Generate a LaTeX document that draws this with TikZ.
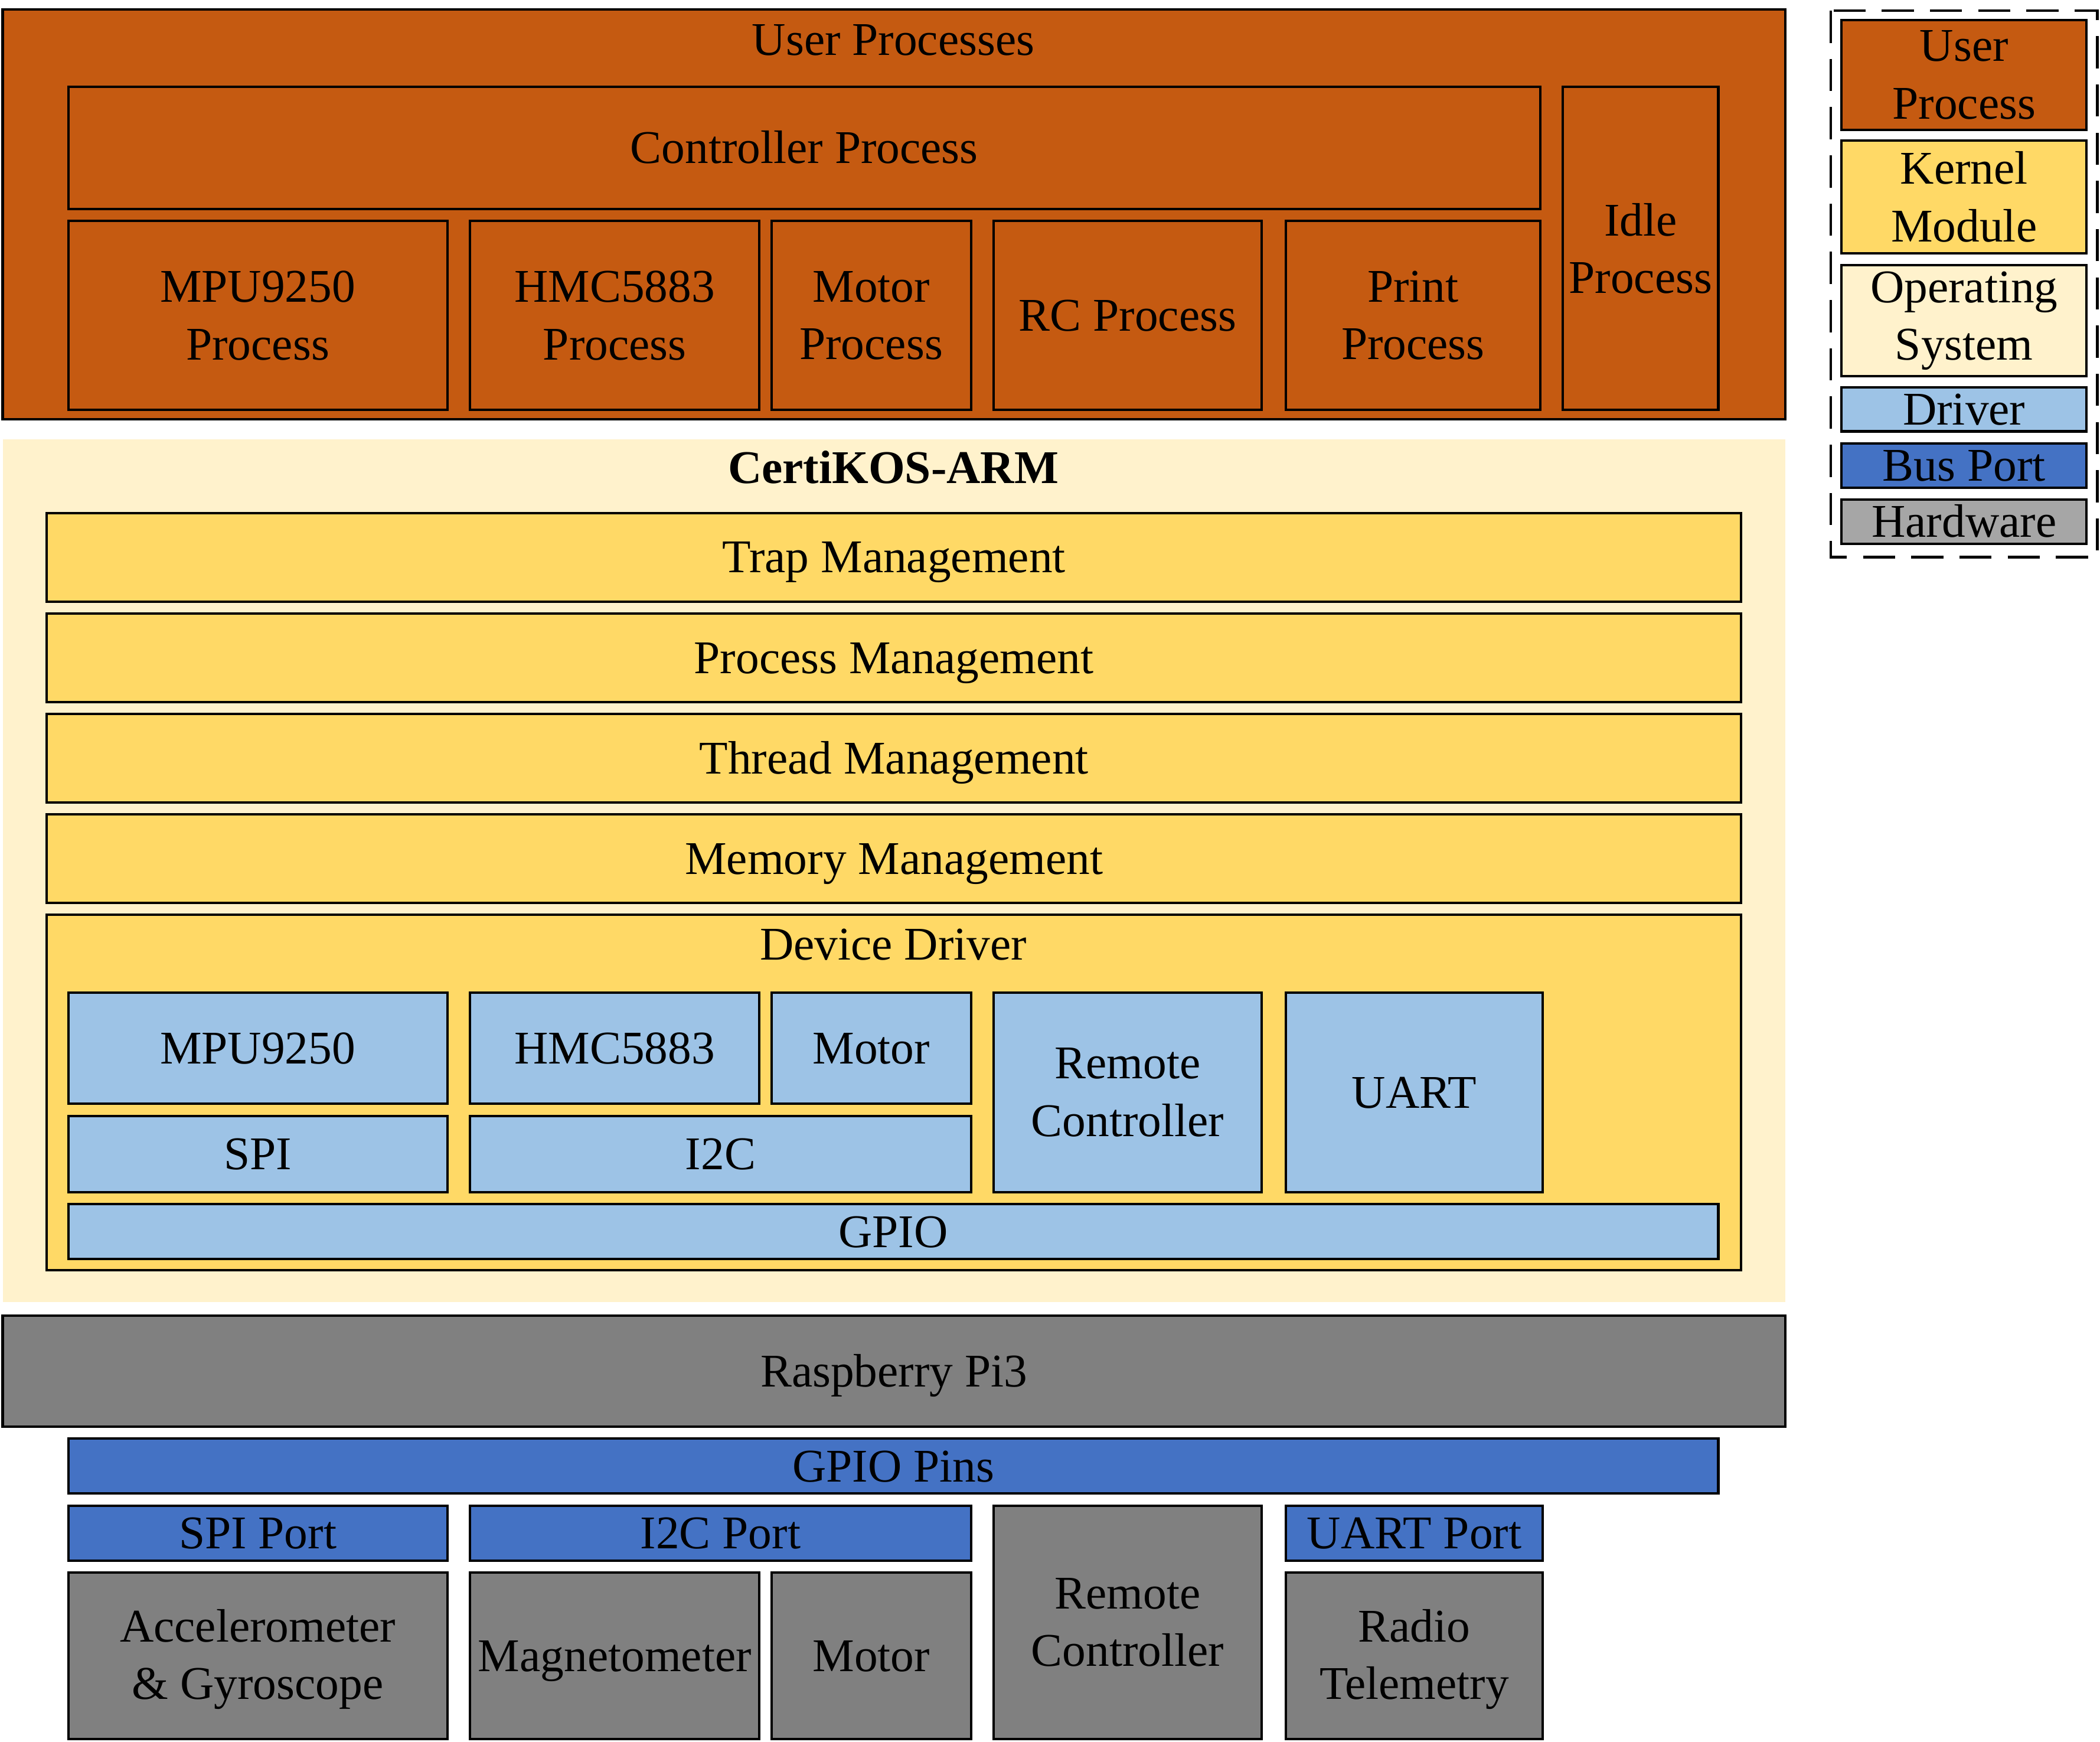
\documentclass[tikz,border=0pt]{standalone}
\usepackage{fontspec}
\setmainfont{Liberation Serif}
\definecolor{uorange}{HTML}{C55A11}
\definecolor{osbg}{HTML}{FFF2CC}
\definecolor{kyellow}{HTML}{FFD966}
\definecolor{dblue}{HTML}{9DC3E6}
\definecolor{pblue}{HTML}{4472C4}
\definecolor{hgray}{HTML}{808080}
\definecolor{lgray}{HTML}{A6A6A6}
\newcommand\bx[7]{\node[#6, anchor=north west, minimum width={(#4-#2)*0.5pt}, minimum height={(#5-#3)*0.5pt}] (#1) at (#2,#3) {#7};}
\tikzset{
  base/.style={draw=black, line width=0.9pt, inner sep=0pt, outer sep=0pt, align=center,
     font=\fontsize{17.5}{21.5}\selectfont, text height=14pt, text depth=2.45pt},
  multi/.style={text height={}, text depth={}},
  user/.style={base, fill=uorange},
  os/.style={base, draw=none, fill=osbg},
  kern/.style={base, fill=kyellow},
  drv/.style={base, fill=dblue},
  bus/.style={base, fill=pblue},
  hw/.style={base, fill=hgray},
  lhw/.style={base, fill=lgray},
  title/.style={inner sep=0pt, font=\fontsize{17.5}{21.5}\selectfont},
  legbox/.style={draw=black, line width=1pt, dash pattern=on 12pt off 6pt}
}
\begin{document}
\begin{tikzpicture}[x=0.5pt, y=-0.5pt]
\useasboundingbox (0,0) rectangle (1568,1300.4);
% User processes
\bx{up}{2}{7}{1333}{313}{user}{}
\node[title] (upt) at (667,30) {User Processes};
\bx{ctrl}{51}{65}{1150}{156}{user}{Controller Process}
\bx{mpup}{51}{165}{334}{306}{user, multi}{MPU9250\\Process}
\bx{hmcp}{351}{165}{567}{306}{user, multi}{HMC5883\\Process}
\bx{motp}{576}{165}{725}{306}{user, multi}{Motor\\Process}
\bx{rcp}{742}{165}{942}{306}{user}{RC Process}
\bx{prp}{960}{165}{1150}{306}{user, multi}{Print\\Process}
\bx{idle}{1167}{65}{1283}{306}{user, multi}{Idle\\Process}
% OS
\bx{osb}{2}{328}{1333}{972}{os}{}
\node[title, font=\fontsize{17.5}{21.5}\selectfont\bfseries] (ost) at (667,349) {CertiKOS-ARM};
\bx{trap}{35}{383}{1300}{449}{kern}{Trap Management}
\bx{proc}{35}{458}{1300}{524}{kern}{Process Management}
\bx{thr}{35}{533}{1300}{599}{kern}{Thread Management}
\bx{mem}{35}{608}{1300}{674}{kern}{Memory Management}
\bx{dd}{35}{683}{1300}{948}{kern}{}
\node[title] (ddt) at (667,705) {Device Driver};
\bx{mpu}{51}{741}{334}{824}{drv}{MPU9250}
\bx{hmc}{351}{741}{567}{824}{drv}{HMC5883}
\bx{mot}{576}{741}{725}{824}{drv}{Motor}
\bx{spi}{51}{833}{334}{890}{drv}{SPI}
\bx{itc}{351}{833}{725}{890}{drv}{I2C}
\bx{rc}{742}{741}{942}{890}{drv, multi}{Remote\\Controller}
\bx{uart}{960}{741}{1152}{890}{drv}{UART}
\bx{gpio}{51}{899}{1283}{940}{drv}{GPIO}
% Hardware
\bx{rpi}{2}{982}{1333}{1065}{hw}{Raspberry Pi3}
\bx{pins}{51}{1074}{1283}{1115}{bus}{GPIO Pins}
\bx{spip}{51}{1124}{334}{1165}{bus}{SPI Port}
\bx{itcp}{351}{1124}{725}{1165}{bus}{I2C Port}
\bx{rch}{742}{1124}{942}{1298}{hw, multi}{Remote\\Controller}
\bx{uartp}{960}{1124}{1152}{1165}{bus}{UART Port}
\bx{acc}{51}{1174}{334}{1298}{hw, multi, text depth=1pt}{Accelerometer\\\& Gyroscope}
\bx{mag}{351}{1174}{567}{1298}{hw}{Magnetometer}
\bx{moth}{576}{1174}{725}{1298}{hw}{Motor}
\bx{radio}{960}{1174}{1152}{1298}{hw, multi, text depth=1pt}{Radio\\Telemetry}
% Legend
\draw[legbox] (1367,8) rectangle (1566,416);
\bx{lup}{1375}{15}{1558}{97}{user, multi}{User\\Process}
\bx{lkm}{1375}{105}{1558}{189}{kern, multi}{Kernel\\Module}
\bx{los}{1375}{198}{1558}{281}{base, multi, fill=osbg}{Operating\\System}
\bx{ldrv}{1375}{289}{1558}{322}{drv}{Driver}
\bx{lbus}{1375}{331}{1558}{364}{bus}{Bus Port}
\bx{lhw}{1375}{373}{1558}{406}{lhw}{Hardware}
\end{tikzpicture}
\end{document}
